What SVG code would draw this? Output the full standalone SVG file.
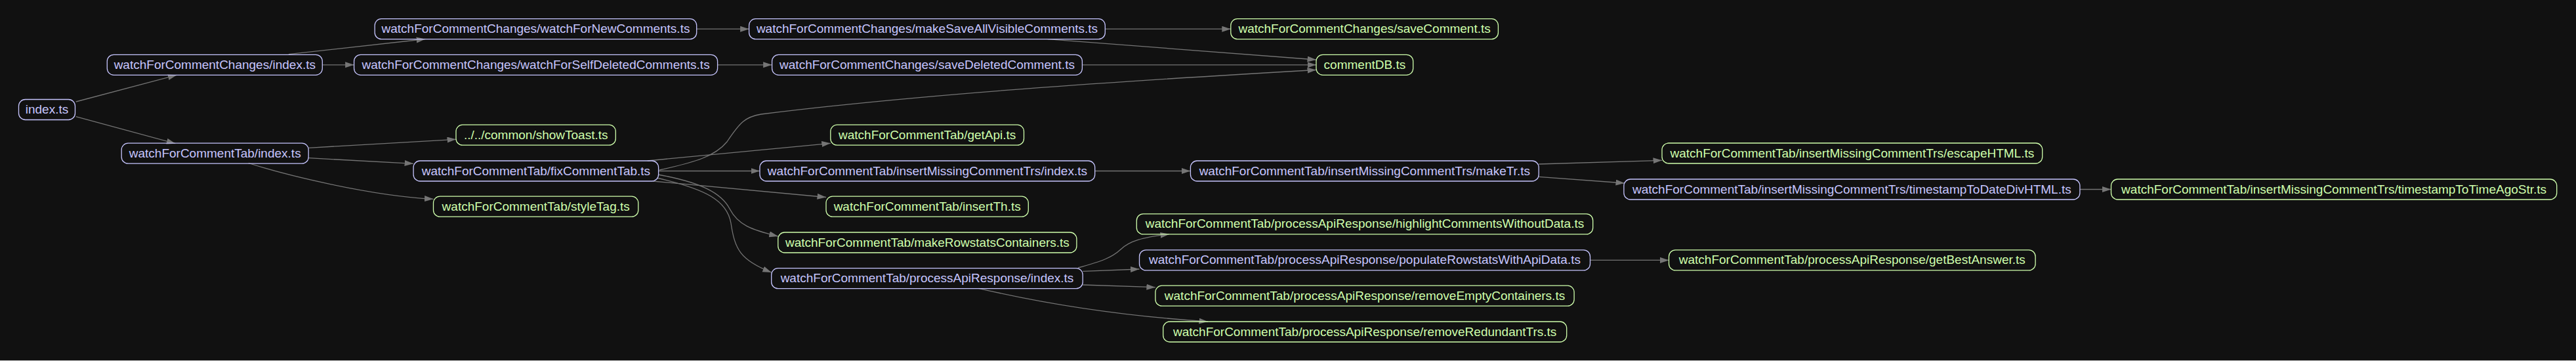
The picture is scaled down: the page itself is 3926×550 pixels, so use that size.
<svg xmlns="http://www.w3.org/2000/svg" width="3926" height="550" viewBox="0 0 3926 550">
<style>
.n rect{fill:none;stroke-width:1.3}
.b rect{stroke:#c6c5fe}.b text{fill:#c6c5fe}
.g rect{stroke:#cfffac}.g text{fill:#cfffac}
text{font-family:"Liberation Sans",Arial,sans-serif;font-size:19px;text-anchor:middle}
#edges path{fill:none;stroke:#757575;stroke-width:1.3;marker-end:url(#arr)}
</style>
<defs>
<marker id="arr" markerWidth="14" markerHeight="10" refX="13.5" refY="4.5" orient="auto" markerUnits="userSpaceOnUse"><path d="M0,0 L13.5,4.5 L0,9 z" fill="#757575"/></marker>
</defs>
<rect x="0" y="0" width="3926" height="550" fill="#111111"/>
<rect x="0" y="549" width="3926" height="1" fill="#cfcfcf"/>
<g id="edges">
<path d="M115.7,155 L269.4,114.3"/>
<path d="M115.7,177.7 L267.3,218.7"/>
<path d="M439.9,82.7 L648.2,59.5"/>
<path d="M491.2,98.8 L539.6,98.8"/>
<path d="M1061.7,44.2 L1141.6,44.2"/>
<path d="M1093.6,98.8 L1176.6,98.8"/>
<path d="M1684.3,44.2 L1875.8,44.2"/>
<path d="M1596.7,59.7 L2006,91"/>
<path d="M1649.4,98.8 L2006,98.8"/>
<path d="M1005,259 C1060,247 1090,238 1108,216 C1128,186 1136,178 1160,174 C1400,144 1700,124 2006,106.5"/>
<path d="M470.2,225.3 L695,212.3"/>
<path d="M470.2,240.7 L630.1,249.3"/>
<path d="M378.8,248.5 C430,265 560,298 660.5,303.3"/>
<path d="M986.7,245 L1265.8,218.3"/>
<path d="M1003.6,260.5 L1158,260.5"/>
<path d="M995,276 L1259,300.5"/>
<path d="M1003,266 C1070,278 1100,295 1112,318 C1125,343 1145,350 1185.8,360"/>
<path d="M1001,271 C1075,288 1108,305 1114,340 C1120,380 1128,396 1175.7,415"/>
<path d="M1668.7,260.5 L1814.4,260.5"/>
<path d="M2345.2,250 L2533,244.3"/>
<path d="M2345.2,269.3 L2476,279"/>
<path d="M3169.9,288.5 L3217.5,288.5"/>
<path d="M1643,408 C1680,398 1695,392 1708,380 C1722,367 1740,362 1782,356.7"/>
<path d="M1650.2,413.3 L1736.5,410"/>
<path d="M1650.2,434 L1760.9,437.7"/>
<path d="M1491.5,439.3 C1580,460 1690,480 1840.9,490"/>
<path d="M2423.5,396.4 L2543.5,396.4"/>
</g>
<g id="n_index" class="n b"><rect x="28.5" y="151.5" width="86" height="31" rx="10"/><text x="71.5" y="173">index.ts</text></g>
<g id="n_wfcc_index" class="n b"><rect x="163.3" y="83.3" width="328" height="31" rx="10"/><text x="327.3" y="104.8">watchForCommentChanges/index.ts</text></g>
<g id="n_wfct_index" class="n b"><rect x="185.2" y="218.2" width="285" height="31" rx="10"/><text x="327.7" y="239.7">watchForCommentTab/index.ts</text></g>
<g id="n_newcomments" class="n b"><rect x="571.2" y="28.7" width="490.5" height="31" rx="10"/><text x="816.5" y="50.2">watchForCommentChanges/watchForNewComments.ts</text></g>
<g id="n_selfdeleted" class="n b"><rect x="539.6" y="83.3" width="554" height="31" rx="10"/><text x="816.6" y="104.8">watchForCommentChanges/watchForSelfDeletedComments.ts</text></g>
<g id="n_makesaveall" class="n b"><rect x="1141.6" y="28.7" width="542.7" height="31" rx="10"/><text x="1413" y="50.2">watchForCommentChanges/makeSaveAllVisibleComments.ts</text></g>
<g id="n_savedeleted" class="n b"><rect x="1176.6" y="83.3" width="472.8" height="31" rx="10"/><text x="1413" y="104.8">watchForCommentChanges/saveDeletedComment.ts</text></g>
<g id="n_savecomment" class="n g"><rect x="1875.8" y="28.7" width="407.6" height="31" rx="10"/><text x="2079.6" y="50.2">watchForCommentChanges/saveComment.ts</text></g>
<g id="n_commentdb" class="n g"><rect x="2006" y="83.3" width="147.7" height="31" rx="10"/><text x="2079.9" y="104.8">commentDB.ts</text></g>
<g id="n_showtoast" class="n g"><rect x="695" y="190.2" width="243.3" height="31" rx="10"/><text x="816.7" y="211.7">../../common/showToast.ts</text></g>
<g id="n_fixcommenttab" class="n b"><rect x="630.1" y="245" width="373.5" height="31" rx="10"/><text x="816.9" y="266.5">watchForCommentTab/fixCommentTab.ts</text></g>
<g id="n_styletag" class="n g"><rect x="660.5" y="299.2" width="312.3" height="31" rx="10"/><text x="816.7" y="320.7">watchForCommentTab/styleTag.ts</text></g>
<g id="n_getapi" class="n g"><rect x="1265.8" y="190.2" width="294.7" height="31" rx="10"/><text x="1413.2" y="211.7">watchForCommentTab/getApi.ts</text></g>
<g id="n_insertmissing_index" class="n b"><rect x="1158" y="245" width="510.7" height="31" rx="10"/><text x="1413.4" y="266.5">watchForCommentTab/insertMissingCommentTrs/index.ts</text></g>
<g id="n_insertth" class="n g"><rect x="1259" y="299.2" width="308.3" height="31" rx="10"/><text x="1413.2" y="320.7">watchForCommentTab/insertTh.ts</text></g>
<g id="n_makerowstats" class="n g"><rect x="1185.8" y="354" width="455.1" height="31" rx="10"/><text x="1413.4" y="375.5">watchForCommentTab/makeRowstatsContainers.ts</text></g>
<g id="n_processapi_index" class="n b"><rect x="1175.7" y="408.7" width="474.5" height="31" rx="10"/><text x="1413" y="430.2">watchForCommentTab/processApiResponse/index.ts</text></g>
<g id="n_maketr" class="n b"><rect x="1814.4" y="245" width="530.8" height="31" rx="10"/><text x="2079.8" y="266.5">watchForCommentTab/insertMissingCommentTrs/makeTr.ts</text></g>
<g id="n_highlight" class="n g"><rect x="1732.3" y="325.9" width="695.4" height="31" rx="10"/><text x="2080" y="347.4">watchForCommentTab/processApiResponse/highlightCommentsWithoutData.ts</text></g>
<g id="n_populate" class="n b"><rect x="1736.5" y="380.9" width="687" height="31" rx="10"/><text x="2080" y="402.4">watchForCommentTab/processApiResponse/populateRowstatsWithApiData.ts</text></g>
<g id="n_removeempty" class="n g"><rect x="1760.9" y="435.2" width="638.2" height="31" rx="10"/><text x="2080" y="456.7">watchForCommentTab/processApiResponse/removeEmptyContainers.ts</text></g>
<g id="n_removeredundant" class="n g"><rect x="1772.7" y="490" width="615" height="31" rx="10"/><text x="2080.2" y="511.5">watchForCommentTab/processApiResponse/removeRedundantTrs.ts</text></g>
<g id="n_escapehtml" class="n g"><rect x="2533" y="218" width="579.7" height="31" rx="10"/><text x="2822.9" y="239.5">watchForCommentTab/insertMissingCommentTrs/escapeHTML.ts</text></g>
<g id="n_datediv" class="n b"><rect x="2474.9" y="273" width="695" height="31" rx="10"/><text x="2822.4" y="294.5">watchForCommentTab/insertMissingCommentTrs/timestampToDateDivHTML.ts</text></g>
<g id="n_getbestanswer" class="n g"><rect x="2543.5" y="380.9" width="558.6" height="31" rx="10"/><text x="2822.8" y="402.4">watchForCommentTab/processApiResponse/getBestAnswer.ts</text></g>
<g id="n_timeagostr" class="n g"><rect x="3217.5" y="273" width="679.2" height="31" rx="10"/><text x="3557.1" y="294.5">watchForCommentTab/insertMissingCommentTrs/timestampToTimeAgoStr.ts</text></g>
</svg>
